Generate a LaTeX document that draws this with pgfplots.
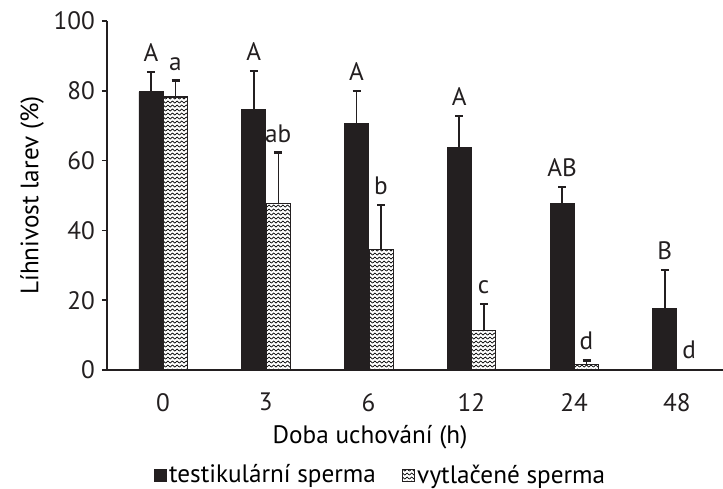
\documentclass[border=0pt]{standalone}
\usepackage{fontspec}
\setmainfont{PT Sans}
\usepackage{pgfplots}
\usepackage{pgfplotstable}
\pgfplotsset{compat=1.18}
\usetikzlibrary{patterns}
\definecolor{barblack}{RGB}{35,31,32}
\pgfdeclarepatternformonly{zigzag}{\pgfpoint{-0.2pt}{-0.2pt}}{\pgfpoint{2.5pt}{2.2pt}}{\pgfpoint{2.3pt}{2pt}}{%
  \pgfsetlinewidth{0.35pt}%
  \pgfpathmoveto{\pgfpoint{0pt}{0.45pt}}%
  \pgfpathlineto{\pgfpoint{1.15pt}{1.5pt}}%
  \pgfpathlineto{\pgfpoint{2.3pt}{0.45pt}}%
  \pgfusepath{stroke}%
}
\pgfplotstableread{
x y e
0 79.7 5.7
1 74.7 11.0
2 70.7 9.3
3 63.7 9.1
4 47.6 4.8
5 17.7 11.0
}\testik
\pgfplotstableread{
x y e
0 78.2 4.8
1 47.6 14.7
2 34.6 12.7
3 11.3 7.6
4 1.5 1.3
5 0.0 0.0
}\vytl
\pgfplotstableread{
x y lab
-0.117 85.4 A
0.883 85.7 A
1.883 80.0 A
2.883 72.8 A
3.883 52.4 AB
4.883 28.7 B
0.12 83.0 a
1.12 62.3 ab
2.12 47.3 b
3.12 18.9 c
4.12 2.8 d
5.12 0.3 d
}\labs
\newcommand{\chartfont}{\fontsize{12.6pt}{14pt}\selectfont}
\begin{document}
\begin{tikzpicture}
\begin{axis}[
  width=308pt, height=174.5pt, scale only axis,
  ybar, bar width=12pt,
  xmin=-0.545, xmax=5.45, ymin=0, ymax=100,
  axis x line*=bottom, axis y line*=left,
  axis line style={line width=0.8pt, color=barblack},
  xtick={0,...,5}, xticklabels={0,3,6,12,24,48},
  ytick={0,20,...,100},
  major x tick style={draw=none},
  tick align=outside, major tick length=2.5pt,
  major y tick style={line width=0.8pt, color=barblack},
  /pgf/number format/assume math mode=true,
  tick label style={color=barblack, font=\chartfont},
  xticklabel style={yshift=-5.5pt},
  every axis y label/.style={at={(axis description cs:0,0.5)}, xshift=-37.5pt, rotate=90, anchor=center, font=\chartfont},
  every axis x label/.style={at={(axis description cs:0.427,0)}, yshift=-33.5pt, anchor=center, font=\chartfont},
  ylabel={Líhnivost larev (\%)},
  xlabel={Doba uchování (h)},
  legend style={at={(0.444,-0.302)}, anchor=center, draw=none, fill=none,
    legend columns=2, font=\chartfont,
    /tikz/every even column/.append style={column sep=12pt},
    nodes={inner xsep=1pt, inner ysep=1pt}},
  legend cell align=left,
  legend image code/.code={\draw[#1, line width=0.6pt] (0pt,-3pt) rectangle (6pt,3pt);},
]
\coordinate (SW) at (rel axis cs:0,0);
\coordinate (NE) at (rel axis cs:1,1);
\addplot[bar shift=-6pt, fill=barblack, draw=barblack,
  error bars/.cd, y dir=plus, y explicit,
  error bar style={line width=0.8pt, color=barblack},
  error mark options={rotate=90, line width=1.3pt, mark size=2pt, color=barblack}]
  table[x=x, y=y, y error=e] {\testik};
\addlegendentry{testikulární sperma}
\addplot[bar shift=6.3pt, pattern=zigzag, draw=barblack, line width=0.6pt,
  error bars/.cd, y dir=plus, y explicit,
  error bar style={line width=0.8pt, color=barblack},
  error mark options={rotate=90, line width=1.3pt, mark size=2pt, color=barblack}]
  table[x=x, y=y, y error=e] {\vytl};
\addlegendentry{vytlačené sperma}
\addplot[bar shift=0pt, draw=none, fill=none, mark=none, nodes near coords, point meta=explicit symbolic,
  nodes near coords style={anchor=south, yshift=1.5pt, color=barblack, font=\chartfont}, forget plot]
  table[x=x, y=y, meta=lab] {\labs};
\end{axis}
\pgfresetboundingbox
\path[use as bounding box] ([shift={(-53.5pt,-59pt)}]SW) rectangle ([shift={(0pt,10.5pt)}]NE);
\end{tikzpicture}
\end{document}
